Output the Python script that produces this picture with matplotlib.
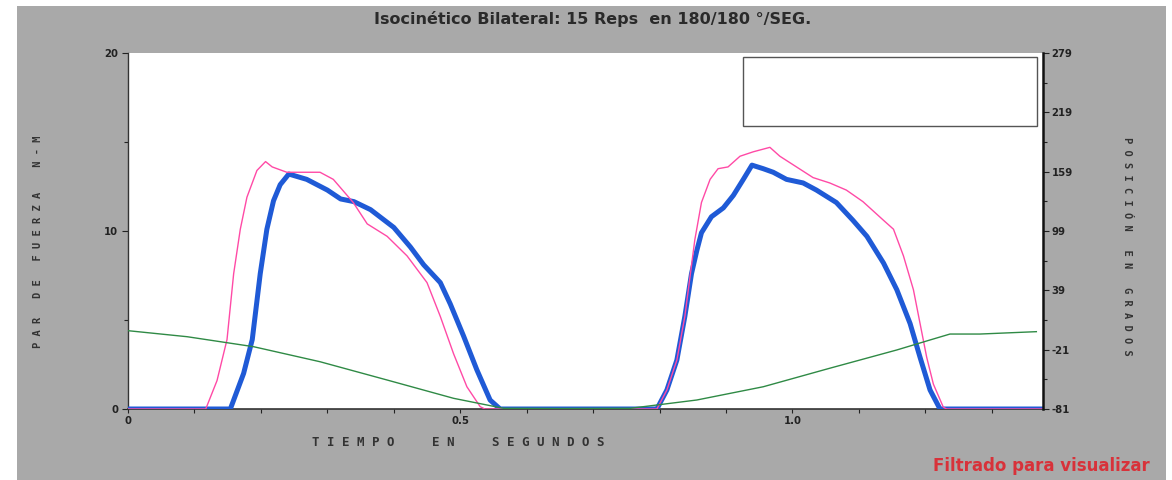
import matplotlib
matplotlib.use("Agg")
import matplotlib.pyplot as plt
from matplotlib.patches import Rectangle
from matplotlib.ticker import FixedLocator, MultipleLocator
from matplotlib.transforms import Bbox, TransformedBbox

# ---------------- data ----------------
title = "Isocinético Bilateral: 15 Reps  en 180/180 °/SEG."
xlabel = "T I E M P O     E N     S E G U N D O S"
ylabel_left = "P A R   D E   F U E R Z A    N - M"
ylabel_right = "P O S I C I Ó N   E N   G R A D O S"
note = "Filtrado para visualizar"

x_major = [0, 0.5, 1.0]
x_major_labels = ["0", "0.5", "1.0"]
y_left_major = [0, 10, 20]
y_right_major = [-81, -21, 39, 99, 159, 219, 279]

# torque (pink, thin)
pink_t = [0.0, 0.117, 0.134, 0.149, 0.159, 0.169, 0.179, 0.194, 0.207, 0.217,
          0.239, 0.289, 0.309, 0.339, 0.360, 0.390, 0.420, 0.450, 0.470, 0.490,
          0.510, 0.530, 0.537, 0.796, 0.811, 0.826, 0.838, 0.853, 0.863, 0.876,
          0.888, 0.903, 0.921, 0.941, 0.966, 0.981, 1.006, 1.031, 1.056, 1.081,
          1.106, 1.137, 1.152, 1.167, 1.182, 1.192, 1.202, 1.212, 1.227, 1.232,
          1.377]
pink_v = [0.0, 0.0, 1.6, 3.9, 7.6, 10.1, 11.9, 13.4, 13.9, 13.6,
          13.3, 13.3, 12.9, 11.6, 10.4, 9.7, 8.6, 7.1, 5.2, 3.1,
          1.25, 0.13, 0.0, 0.0, 1.07, 2.75, 5.2, 9.5, 11.6, 12.9,
          13.5, 13.6, 14.2, 14.45, 14.7, 14.2, 13.6, 13.0, 12.7, 12.3,
          11.65, 10.6, 10.1, 8.6, 6.7, 4.8, 2.9, 1.4, 0.1, 0.0,
          0.0]

# torque (blue, thick)
blue_t = [0.0, 0.154, 0.174, 0.187, 0.199, 0.209, 0.219, 0.229, 0.242, 0.269,
          0.300, 0.320, 0.340, 0.365, 0.400, 0.425, 0.445, 0.470, 0.485, 0.505,
          0.525, 0.545, 0.560, 0.796, 0.811, 0.826, 0.838, 0.848, 0.856, 0.863,
          0.878, 0.896, 0.911, 0.926, 0.939, 0.956, 0.971, 0.991, 1.016, 1.036,
          1.066, 1.091, 1.112, 1.137, 1.157, 1.177, 1.192, 1.207, 1.222, 1.377]
blue_v = [0.0, 0.0, 2.0, 3.9, 7.6, 10.1, 11.7, 12.6, 13.2, 12.9,
          12.3, 11.8, 11.65, 11.2, 10.2, 9.1, 8.1, 7.1, 5.9, 4.1,
          2.2, 0.5, 0.0, 0.0, 1.07, 2.75, 5.2, 7.6, 8.9, 9.9,
          10.8, 11.3, 12.0, 12.9, 13.7, 13.5, 13.3, 12.9, 12.7, 12.3,
          11.6, 10.6, 9.7, 8.2, 6.7, 4.8, 2.9, 1.07, 0.0, 0.0]

# position in degrees (green, right axis)
green_t = [0.0, 0.089, 0.189, 0.289, 0.390, 0.490, 0.565, 0.65, 0.756, 0.856,
           0.956, 1.056, 1.157, 1.207, 1.237, 1.282, 1.367]
green_v = [-1.8, -7.9, -18.0, -33.2, -51.7, -70.2, -80.3, -80.5, -80.3, -71.9,
           -58.5, -39.8, -21.3, -11.2, -5.2, -5.2, -2.8]

# ---------------- figure ----------------
W, H = 1172, 480
fig = plt.figure(figsize=(W / 100, H / 100), dpi=100)
fig.patch.set_facecolor("white")

bg = "#a9a9a9"
fig.patches.append(Rectangle((17 / W, 0), (1166 - 17) / W, (480 - 6) / H,
                             transform=fig.transFigure, facecolor=bg,
                             edgecolor="none", zorder=-10))

L, R, T, B = 128, 1043, 53, 409
ax = fig.add_axes([L / W, (H - B) / H, (R - L) / W, (B - T) / H])
ax.set_facecolor("white")
ax2 = ax.twinx()
ax2.patch.set_visible(False)

ax.plot(blue_t, blue_v, color="#1f5ad6", lw=3.6, solid_joinstyle="round", zorder=3)
ax.plot(pink_t, pink_v, color="#ff4aa6", lw=1.0, zorder=4)
ax2.plot(green_t, green_v, color="#2f8a45", lw=1.0, zorder=2)

ax.set_xlim(0, 1.377)
ax.set_ylim(0, 20)
ax2.set_ylim(-81, 279)

tick_font = dict(family="DejaVu Sans", weight="bold", size=7.3)

ax.xaxis.set_major_locator(FixedLocator(x_major))
ax.set_xticklabels(x_major_labels, **tick_font)
ax.xaxis.set_minor_locator(MultipleLocator(0.1))
ax.yaxis.set_major_locator(FixedLocator(y_left_major))
ax.set_yticklabels([str(v) for v in y_left_major], **tick_font)
ax.yaxis.set_minor_locator(MultipleLocator(5))
ax2.yaxis.set_major_locator(FixedLocator(y_right_major))
ax2.set_yticklabels([str(v) for v in y_right_major], **tick_font)
ax2.yaxis.set_minor_locator(FixedLocator([v + 30 for v in y_right_major[:-1]]))

ax.tick_params(axis="x", which="both", direction="out", length=3, width=0.8,
               pad=2, colors="#222222")
ax.tick_params(axis="y", which="major", direction="out", length=4, width=0.8,
               pad=3, colors="#222222")
ax.tick_params(axis="y", which="minor", direction="out", length=3, width=0.8,
               colors="#222222")
ax2.tick_params(axis="y", which="major", direction="out", length=4, width=0.8,
                pad=2, colors="#222222")
ax2.tick_params(axis="y", which="minor", direction="out", length=3, width=0.8,
                colors="#222222")

for a in (ax, ax2):
    a.spines["top"].set_visible(False)
    a.spines["left"].set_color("#333333")
    a.spines["bottom"].set_color("#333333")
ax.spines["right"].set_visible(False)
ax2.spines["left"].set_visible(False)
ax2.spines["bottom"].set_visible(False)
ax2.spines["right"].set_color("#111111")
ax2.spines["right"].set_linewidth(1.8)
ax.spines["left"].set_linewidth(1.0)
ax.spines["bottom"].set_linewidth(1.2)

# empty legend box
ax.add_patch(Rectangle((0.672, 0.795), 0.321, 0.194, transform=ax.transAxes,
                       facecolor="white", edgecolor="#555555", lw=1.0, zorder=6))

# texts
label_font = dict(family="DejaVu Sans Mono", weight="bold", size=7.5, color="#333333")
fig.text(38 / W, 1 - 242 / H, ylabel_left, rotation=90, ha="center", va="center",
         **label_font)
fig.text(1127 / W, 1 - 246 / H, ylabel_right, rotation=-90, ha="center",
         va="center", **label_font)
fig.text(458 / W, 1 - 443 / H, xlabel, ha="center", va="center",
         family="DejaVu Sans Mono", weight="bold", size=9.0, color="#333333")
fig.text(593 / W, 1 - 19 / H, title, ha="center", va="center",
         family="DejaVu Sans", weight="bold", size=11.5, color="#2a2a2a")
t = fig.text(933 / W, 1 - 466 / H, note, ha="left", va="center",
             family="DejaVu Sans", weight="bold", size=12, color="#d8323a")
t.set_clip_box(TransformedBbox(Bbox([[17 / W, 0], [1166 / W, 1]]), fig.transFigure))
t.set_clip_on(True)

fig.savefig("out.png", dpi=100, facecolor=fig.get_facecolor())
